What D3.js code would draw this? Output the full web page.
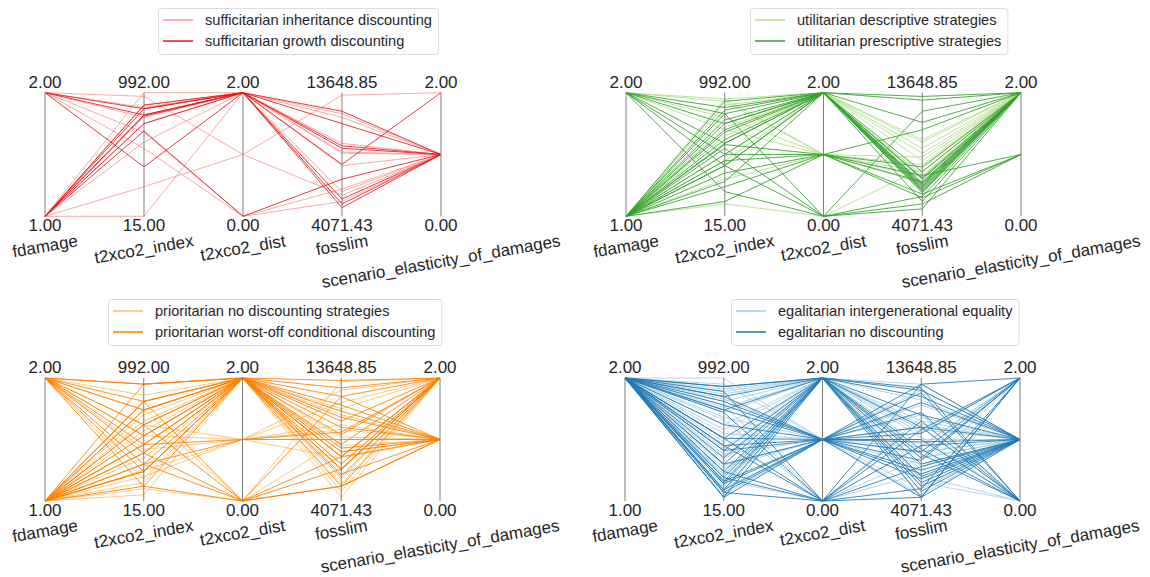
<!DOCTYPE html>
<html><head><meta charset="utf-8">
<script src="https://cdn.jsdelivr.net/npm/d3@7"></script>
<style>body{margin:0;background:#fff}svg{display:block}</style>
</head><body><svg id="c" width="1150" height="577"></svg>
<script>
const dimensions = ["fdamage","t2xco2_index","t2xco2_dist","fosslim","scenario_elasticity_of_damages"];
const axisMin = [1, 15, 0, 4071.43, 0];
const axisMax = [2, 992, 2, 13648.85, 2];

// rows: [fdamage, t2xco2_index, t2xco2_dist, fosslim, scenario_elasticity_of_damages]
const sufficitarianInheritance = [
 [1,992,2,12020,1],[1,249,1,13457,2],[1,15,2,5987,1],[2,679,0,6178,1],[2,963,1,5700,1],
 [1,894,2,11733,1],[2,875,2,9722,1],[1,748,2,9051,1],[2,797,2,7998,1],[1,601,2,8956,1],[2,552,0,5221,1]];
const sufficitarianGrowth = [
 [1,865,2,12212,1],[1,816,2,11254,1],[1,748,2,5412,1],[1,806,2,5029,1],[2,406,2,4742,1],
 [1,689,0,6945,1],[2,816,2,8094,2],[2,865,2,9339,1],[1,894,2,9530,1]];

const utilitarianDescriptive = [
 [1,943,2,8381,2],[2,924,1,8094,2],[1,894,2,9818,2],[1,718,2,8956,2],[2,699,1,7519,2],
 [1,455,2,10009,2],[1,308,1,8669,2],[2,943,1,7136,2],[1,113,0,7806,2],[1,504,2,9339,2],
 [1,650,2,7232,2],[2,797,1,6657,2]];
const utilitarianPrescriptive = [
 [1,826,2,6370,2],[1,748,2,6178,2],[1,591,2,6466,2],[1,416,2,5987,2],[1,249,1,6753,2],
 [1,132,1,5795,1],[2,826,0,4646,2],[2,748,2,13361,2],[2,591,2,13074,2],[2,416,0,5604,2],
 [1,679,2,6657,2],[1,504,2,11350,2],[1,357,1,10775,2],[1,924,2,6274,2],[2,504,1,7232,1],
 [1,455,1,5508,1],[1,777,2,5891,2],[1,621,2,6945,2],[2,210,0,5029,1],[1,552,0,12212,2],
 [1,416,2,7519,2],[1,289,2,6082,2],[1,699,2,5221,2],[2,875,2,6561,2],[1,582,1,7902,2],
 [1,855,2,7040,2]];

const prioritarianNoDiscounting = [
 [2,533,2,4359,2],[1,533,1,11733,2],[1,464,2,5412,2],[2,621,1,10009,1],[1,162,2,10775,1],
 [1,210,1,12691,2],[2,738,0,8860,1],[1,806,2,4838,2],[1,650,2,8381,1],[2,425,1,7423,1],
 [1,113,0,13361,2],[1,357,2,5795,2],[2,855,2,9051,1],[1,572,2,6466,2],[1,259,1,9626,1],
 [2,191,2,6945,2],[1,699,2,11254,2],[1,64,2,7902,1]];
const prioritarianWorstOff = [
 [2,943,2,12212,1],[2,806,2,7519,2],[2,738,2,6561,2],[1,943,2,7519,1],[1,806,0,5221,2],
 [1,621,0,6561,2],[2,396,2,5221,1],[1,738,2,9243,2],[1,308,2,11541,1],[2,308,0,7519,2],
 [1,396,2,7519,2],[1,464,1,8860,1],[2,621,2,11063,1],[1,132,2,6561,2],[1,249,2,5987,2],
 [2,132,0,5221,1],[1,533,2,10296,2],[1,308,1,9434,2],[2,464,2,8190,1],[1,621,2,12882,2],
 [1,738,2,6945,2],[2,943,2,9818,1],[1,396,0,12212,2],[1,806,2,10584,1],[2,533,2,8477,2],
 [1,249,2,7902,1],[1,464,2,13457,2],[2,249,2,6178,1]];

const egalitarianIntergenerational = [
 [2,992,1,8860,1],[2,885,2,7902,1],[2,806,2,5508,0],[2,777,0,10584,1],[2,718,2,9339,2],
 [2,621,2,13170,1],[2,552,1,6945,1],[2,484,2,5987,0],[2,386,1,11541,1],[2,337,2,8381,2],
 [2,279,1,5029,1],[2,220,2,10009,1],[2,181,0,7423,1],[2,132,2,6466,2],[2,64,1,12691,1],
 [2,44,2,9051,0],[2,943,1,4550,1],[2,865,2,11925,1],[2,826,1,9818,0],[2,758,2,7423,1],
 [2,679,1,8285,2],[2,582,2,5221,1],[2,435,2,6753,1],[2,298,1,10775,0],[2,230,2,5795,1],
 [2,113,1,7902,1],[2,93,2,4359,2],[2,904,2,10296,1],[2,660,0,6178,1],[2,367,2,9626,1]];
const egalitarianNoDiscounting = [
 [2,924,2,12691,1],[2,845,2,9818,0],[2,806,1,7902,2],[2,738,2,6945,1],[2,718,0,13170,1],
 [2,513,1,4359,2],[2,513,2,10775,1],[2,455,1,8860,0],[2,416,2,5987,1],[2,308,1,9339,2],
 [2,249,2,4359,1],[2,201,0,8381,1],[2,171,1,12499,0],[2,152,2,7423,2],[2,103,1,6466,1],
 [2,83,0,10296,0],[2,44,2,5508,1],[2,885,0,5029,2],[2,777,1,11733,1],[2,357,2,12882,0],
 [2,621,1,5795,1],[2,249,0,4359,2],[2,152,1,9818,1],[2,103,2,8094,0],[2,44,1,7232,2],
 [2,924,2,5221,1],[2,845,1,10967,0],[2,455,0,6753,1],[2,201,2,12212,1],[2,83,1,8669,1],
 [2,308,2,7711,0],[2,513,0,9626,2],[2,738,1,6178,1],[2,171,2,4838,1],[2,416,1,13170,2]];

const panels = [
 {x0:45, x1:441, top:92.7, bottom:216.3, legX:158, legY:8,
  series:[{name:"sufficitarian inheritance discounting", color:"#fb9a99", rows:sufficitarianInheritance},
          {name:"sufficitarian growth discounting", color:"#e31a1c", rows:sufficitarianGrowth}]},
 {x0:626, x1:1021, top:92.7, bottom:216.3, legX:750, legY:8,
  series:[{name:"utilitarian descriptive strategies", color:"#b2df8a", rows:utilitarianDescriptive},
          {name:"utilitarian prescriptive strategies", color:"#33a02c", rows:utilitarianPrescriptive}]},
 {x0:45, x1:440, top:378, bottom:501, legX:108, legY:299,
  series:[{name:"prioritarian no discounting strategies", color:"#fdbf6f", rows:prioritarianNoDiscounting},
          {name:"prioritarian worst-off conditional discounting", color:"#ff7f00", rows:prioritarianWorstOff}]},
 {x0:625, x1:1020, top:378, bottom:501, legX:731, legY:299,
  series:[{name:"egalitarian intergenerational equality", color:"#a6cee3", rows:egalitarianIntergenerational},
          {name:"egalitarian no discounting", color:"#1f78b4", rows:egalitarianNoDiscounting}]}
];

const svg = d3.select("#c");
const FONT = "'Liberation Sans', Arial, sans-serif";
const fmt = d3.format(".2f");

panels.forEach(p => {
  const g = svg.append("g");
  const x = d3.scalePoint().domain(dimensions).range([p.x0, p.x1]);
  const ys = dimensions.map((d,i) => d3.scaleLinear().domain([axisMin[i], axisMax[i]]).range([p.bottom, p.top]));
  const line = d3.line().x((v,i) => x(dimensions[i])).y((v,i) => ys[i](v));

  p.series.forEach(s => {
    g.append("g").selectAll("path").data(s.rows).join("path")
      .attr("d", r => line(r)).attr("fill","none")
      .attr("stroke", s.color).attr("stroke-width", 1).attr("stroke-opacity", 0.85);
  });

  dimensions.forEach((d,i) => {
    const ax = g.append("g").attr("transform", `translate(${x(d)},0)`);
    ax.append("line").attr("y1", p.top).attr("y2", p.bottom).attr("stroke", "#7f7f7f").attr("stroke-width", 1);
    ax.append("text").attr("y", p.top - 10.5).attr("text-anchor","middle").attr("dominant-baseline","central")
      .attr("font-family", FONT).attr("font-size", 17).attr("fill","#262626").text(fmt(axisMax[i]));
    ax.append("text").attr("y", p.bottom + 9.5).attr("text-anchor","middle").attr("dominant-baseline","central")
      .attr("font-family", FONT).attr("font-size", 17).attr("fill","#262626").text(fmt(axisMin[i]));
    const t = ax.append("text").attr("text-anchor","middle").attr("dominant-baseline","central")
      .attr("font-family", FONT).attr("font-size", 17).attr("fill","#262626").text(d);
    const w = t.node().getComputedTextLength();
    const a = 10 * Math.PI / 180;
    const bh = w * Math.sin(a) + 17 * Math.cos(a);
    const cy = p.bottom + 16 + bh / 2;
    t.attr("transform", `translate(0,${cy}) rotate(-10)`);
  });

  const lg = svg.append("g").attr("transform", `translate(${p.legX},${p.legY})`);
  const rect = lg.append("rect").attr("rx", 3).attr("ry", 3).attr("fill", "#fff")
    .attr("stroke", "#dcdcdc").attr("stroke-width", 1);
  let maxW = 0;
  p.series.forEach((s, k) => {
    const yy = 12 + k * 21;
    lg.append("line").attr("x1", 5).attr("x2", 35).attr("y1", yy).attr("y2", yy)
      .attr("stroke", s.color).attr("stroke-width", 1.5);
    const tt = lg.append("text").attr("x", 47).attr("y", yy).attr("dominant-baseline","central")
      .attr("font-family", FONT).attr("font-size", 14.6).attr("fill","#262626").text(s.name);
    maxW = Math.max(maxW, tt.node().getComputedTextLength());
  });
  rect.attr("x", 0.5).attr("y", 0.5).attr("width", 47 + maxW + 6).attr("height", 46);
});
</script></body></html>
